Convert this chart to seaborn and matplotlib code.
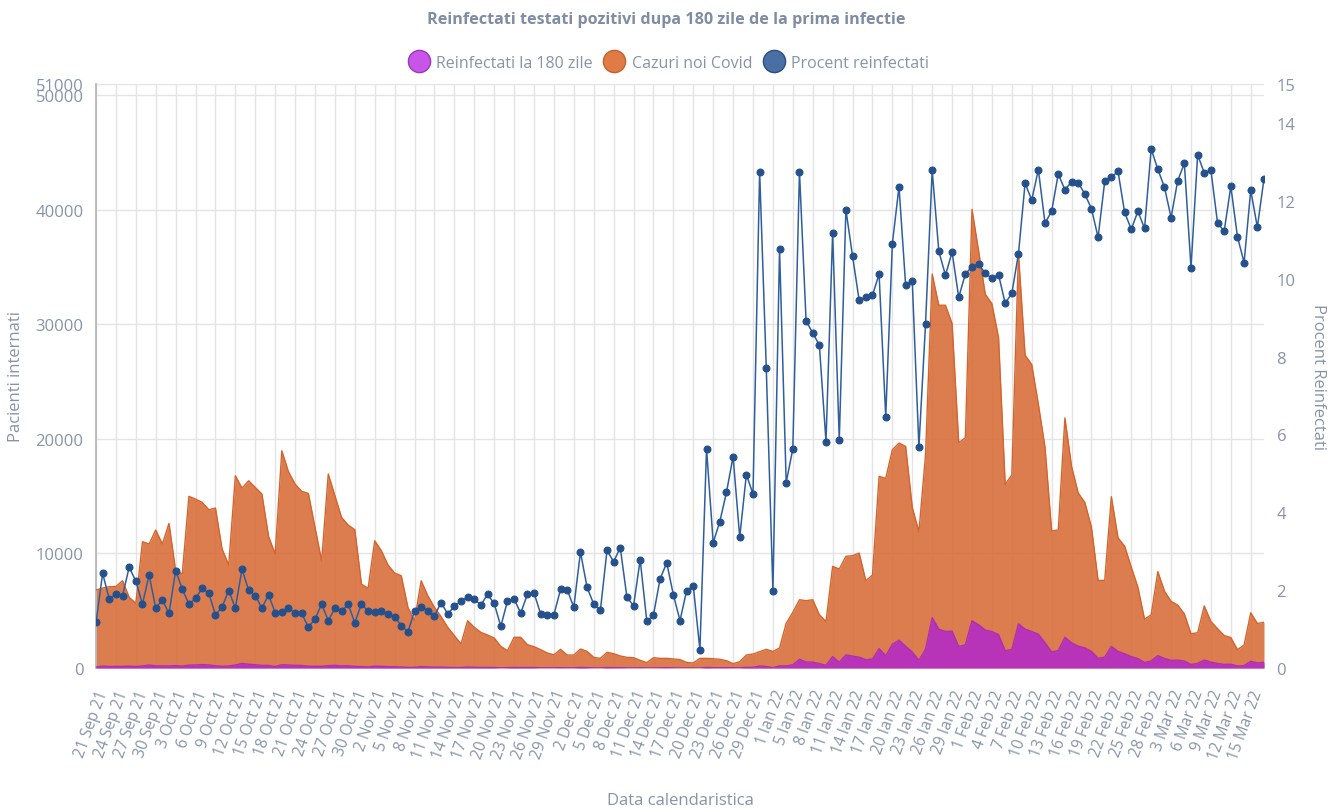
import pandas as pd
import matplotlib.pyplot as plt
import seaborn as sns
from matplotlib.lines import Line2D

# cazuri noi zilnice (axa stanga)
cazuri = [6810, 6980, 7100, 7120, 7620, 6170, 5650, 11030, 10830, 12050,
          10830, 12630, 8500, 8210, 14990, 14750, 14460, 13820, 13970, 10390,
          8990, 16790, 15710, 16350, 15770, 15190, 11500, 9950, 18970, 17140,
          16060, 15420, 15250, 12280, 9370, 16940, 15040, 13150, 12480, 12080,
          7330, 6960, 11110, 10240, 8990, 8290, 8060, 5300, 4130, 7620,
          6310, 5300, 4480, 3550, 2820, 2100, 4130, 3550, 3110, 2880,
          2620, 1890, 1510, 2680, 2680, 2040, 1860, 1600, 1310, 1150,
          1630, 1130, 1130, 1660, 1450, 930, 840, 1370, 1250, 1050,
          930, 900, 670, 470, 900, 840, 840, 790, 730, 490,
          440, 840, 840, 810, 760, 640, 380, 550, 1130, 1220,
          1420, 1630, 1450, 1750, 3900, 4860, 5960, 5880, 5960, 4660,
          4050, 8880, 8640, 9750, 9810, 10040, 7620, 8120, 16740, 16560,
          19060, 19640, 19350, 14030, 11900, 18610, 34400, 31680, 31680, 30080,
          19680, 20110, 40050, 36400, 32640, 31810, 28850, 16020, 16860, 36230,
          27320, 26500, 23040, 19280, 11970, 12050, 21840, 17620, 15290, 14460,
          12300, 7650, 7650, 14960, 11370, 10640, 8810, 7050, 4260, 4650,
          8420, 6710, 5820, 5490, 4720, 2990, 3080, 5420, 4060, 3430,
          2830, 2660, 1600, 2000, 4820, 3890, 3990]

# reinfectati la 180 zile (axa stanga)
reinfectati = [80, 170, 130, 140, 140, 160, 130, 180, 260, 190,
               190, 180, 210, 170, 250, 260, 300, 270, 190, 160,
               180, 260, 400, 330, 290, 230, 220, 140, 280, 260,
               230, 220, 160, 150, 150, 210, 230, 190, 200, 140,
               120, 100, 160, 150, 120, 110, 90, 50, 60, 120,
               90, 70, 80, 50, 40, 40, 80, 60, 50, 50,
               40, 20, 30, 50, 40, 40, 40, 20, 20, 20,
               30, 20, 20, 50, 30, 15, 12, 40, 30, 30,
               17, 14, 19, 6, 12, 19, 23, 15, 9, 10,
               9, 4, 47, 26, 29, 29, 21, 18, 56, 55,
               181, 126, 29, 188, 186, 274, 760, 524, 513, 386,
               235, 992, 506, 1148, 1038, 948, 725, 777, 1694, 1068,
               2078, 2428, 1902, 1393, 676, 1645, 4396, 3390, 3197, 3213,
               1874, 2035, 4129, 3775, 3310, 3184, 2914, 1501, 1622, 3855,
               3401, 3185, 2949, 2204, 1404, 1529, 2682, 2201, 1907, 1760,
               1451, 846, 956, 1885, 1451, 1245, 993, 827, 481, 620,
               1079, 829, 673, 687, 612, 307, 406, 689, 519, 392,
               318, 329, 177, 208, 591, 440, 502]

# procent reinfectati (axa dreapta)
procent = [1.17, 2.43, 1.77, 1.90, 1.86, 2.59, 2.23, 1.64, 2.39, 1.54,
           1.75, 1.40, 2.50, 2.03, 1.64, 1.79, 2.05, 1.92, 1.36, 1.57,
           1.99, 1.54, 2.54, 2.00, 1.86, 1.54, 1.88, 1.42, 1.45, 1.53,
           1.42, 1.40, 1.05, 1.26, 1.64, 1.22, 1.53, 1.46, 1.64, 1.16,
           1.65, 1.46, 1.44, 1.46, 1.38, 1.32, 1.09, 0.93, 1.46, 1.57,
           1.47, 1.34, 1.68, 1.39, 1.58, 1.72, 1.82, 1.77, 1.62, 1.89,
           1.66, 1.07, 1.72, 1.77, 1.41, 1.89, 1.93, 1.39, 1.37, 1.37,
           2.02, 2.01, 1.56, 2.98, 2.07, 1.64, 1.48, 3.02, 2.73, 3.09,
           1.82, 1.60, 2.78, 1.20, 1.36, 2.29, 2.70, 1.88, 1.22, 1.99,
           2.11, 0.47, 5.63, 3.22, 3.76, 4.51, 5.43, 3.36, 4.97, 4.47,
           12.75, 7.71, 1.99, 10.75, 4.76, 5.63, 12.75, 8.91, 8.61, 8.29,
           5.81, 11.17, 5.86, 11.77, 10.58, 9.44, 9.52, 9.57, 10.12, 6.45,
           10.90, 12.36, 9.83, 9.93, 5.68, 8.84, 12.78, 10.70, 10.09, 10.68,
           9.52, 10.12, 10.31, 10.37, 10.14, 10.01, 10.10, 9.37, 9.62, 10.64,
           12.45, 12.02, 12.80, 11.43, 11.73, 12.69, 12.28, 12.49, 12.47, 12.17,
           11.80, 11.06, 12.50, 12.60, 12.76, 11.70, 11.27, 11.73, 11.29, 13.33,
           12.81, 12.35, 11.57, 12.52, 12.96, 10.28, 13.18, 12.72, 12.78, 11.43,
           11.22, 12.37, 11.08, 10.41, 12.27, 11.32, 12.57]

luni = {1: 'Ian', 2: 'Feb', 3: 'Mar', 9: 'Sep', 10: 'Oct', 11: 'Nov', 12: 'Dec'}
zile = pd.date_range('2021-09-21', '2022-03-17').drop(pd.Timestamp('2022-01-02'))
etichete = [f"{d.day} {luni[d.month]} {d.strftime('%y')}" for d in zile]

df = pd.DataFrame({'idx': range(len(cazuri)), 'cazuri': cazuri,
                   'reinfectati': reinfectati, 'procent': procent})

gri = '#8794a8'
grila = '#e4e4e4'

sns.set_theme(style='white')
plt.rcParams['font.family'] = ['Open Sans', 'DejaVu Sans']

fig = plt.figure(figsize=(13.32, 8.12), dpi=100)
ax = fig.add_axes([96 / 1332, 143 / 812, 1168 / 1332, 584 / 812])

ax.fill_between(df['idx'], df['cazuri'], color='#d86b36', alpha=0.88, lw=0, zorder=2)
sns.lineplot(data=df, x='idx', y='cazuri', ax=ax, color='#d4642c', lw=1, zorder=3)
ax.fill_between(df['idx'], df['reinfectati'], color='#b733b8', lw=0, zorder=4)
sns.lineplot(data=df, x='idx', y='reinfectati', ax=ax, color='#b02eb2', lw=1, zorder=5)

ax.set_xlim(0, len(cazuri) - 1)
ax.set_ylim(0, 51000)
ax.set_yticks([0, 10000, 20000, 30000, 40000, 50000, 51000])
ax.set_yticklabels(['0', '10000', '20000', '30000', '40000', '50000', '51000'])
ax.set_xticks(range(0, len(cazuri), 3))
ax.set_xticklabels(etichete[::3], rotation=70, ha='right', va='top', rotation_mode='anchor')
ax.grid(True, color=grila, lw=1, zorder=0)
ax.set_axisbelow(True)
for s in ['top', 'right', 'bottom']:
    ax.spines[s].set_visible(False)
ax.spines['left'].set_color('#b4b4b4')
ax.tick_params(axis='y', length=0, pad=9, labelsize=12, labelcolor=gri)
ax.tick_params(axis='x', length=11, width=1, color=grila, pad=3, labelsize=11.2, labelcolor=gri)
ax.set_xlabel('Data calendaristica', fontsize=12, color=gri, labelpad=22)
ax.set_ylabel('Pacienti internati', fontsize=12, color=gri, labelpad=8)

ax2 = ax.twinx()
sns.lineplot(data=df, x='idx', y='procent', ax=ax2, color='#2f5e9e', lw=1.1,
             marker='o', markersize=5, markerfacecolor='#24508c', markeredgecolor='#24508c')
ax2.set_ylim(0, 15)
ax2.set_yticks([0, 2, 4, 6, 8, 10, 12, 14, 15])
for s in ax2.spines.values():
    s.set_visible(False)
ax2.tick_params(axis='y', length=0, pad=9, labelsize=12, labelcolor=gri)
ax2.set_ylabel('Procent Reinfectati', fontsize=12, color=gri, rotation=270, labelpad=22)
ax2.set_xlabel('')

fig.text(0.5, 1 - 20 / 812, 'Reinfectati testati pozitivi dupa 180 zile de la prima infectie',
         ha='center', va='center', fontsize=11.6, fontweight='bold', color='#7f8ca3')

handles = [
    Line2D([], [], ls='', marker='o', markersize=16, markerfacecolor='#c655e8', markeredgecolor='#9c36c4'),
    Line2D([], [], ls='', marker='o', markersize=16, markerfacecolor='#e07b45', markeredgecolor='#c4612f'),
    Line2D([], [], ls='', marker='o', markersize=16, markerfacecolor='#4a6fa5', markeredgecolor='#2c4f82'),
]
leg = fig.legend(handles, ['Reinfectati la 180 zile', 'Cazuri noi Covid', 'Procent reinfectati'],
                 loc='center', bbox_to_anchor=(0.5, 1 - 64 / 812), ncol=3, frameon=False,
                 fontsize=11.5, handletextpad=0.1, columnspacing=0.35)
for t in leg.get_texts():
    t.set_color(gri)

fig.savefig('out.png', dpi=100)
